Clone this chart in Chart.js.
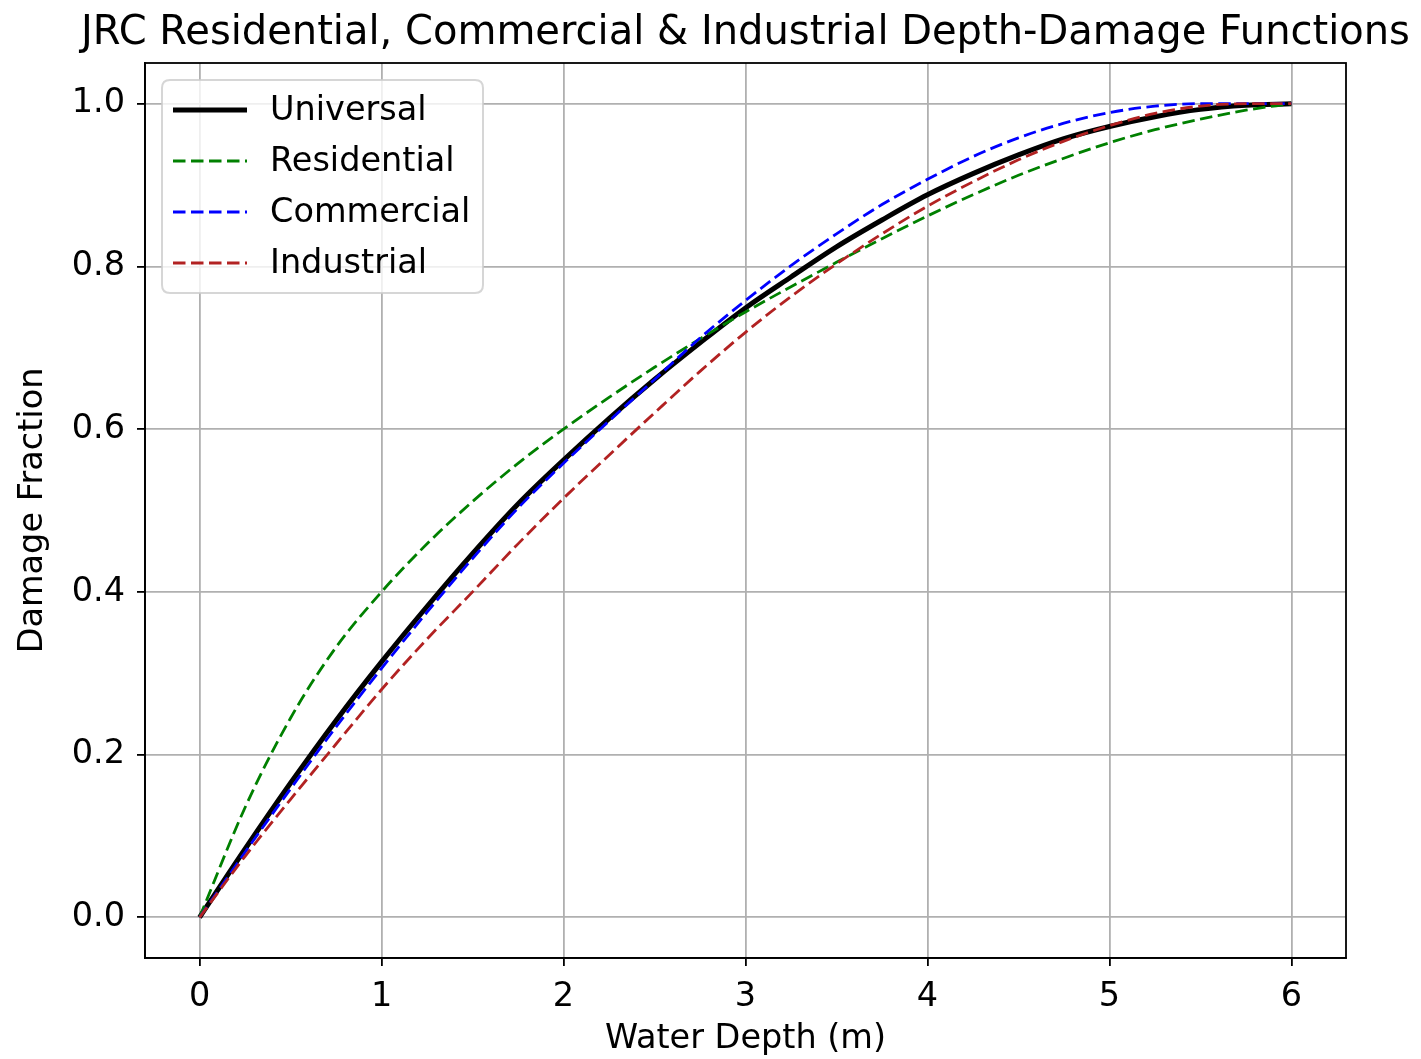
<!DOCTYPE html>
<html>
<head>
<meta charset="utf-8">
<script src="https://cdn.jsdelivr.net/npm/chart.js@4.4.1/dist/chart.umd.min.js"></script>
<style>
  html, body { margin: 0; padding: 0; background: #ffffff; }
  #wrap { width: 1421px; height: 1059px; position: relative; }
</style>
</head>
<body>
<div id="wrap"><canvas id="c" width="1421" height="1059"></canvas></div>
<script>
// ---- data ----
const chartTitle = 'JRC Residential, Commercial & Industrial Depth-Damage Functions';
const xTitle = 'Water Depth (m)';
const yTitle = 'Damage Fraction';
const depths = [0, 0.25, 0.5, 0.75, 1, 1.25, 1.5, 1.75, 2, 2.25, 2.5, 2.75, 3, 3.25, 3.5, 3.75, 4, 4.25, 4.5, 4.75, 5, 5.25, 5.5, 5.75, 6];
const universal   = [0, 0.084, 0.165, 0.242, 0.314, 0.382, 0.447, 0.508, 0.562, 0.613, 0.661, 0.706, 0.749, 0.787, 0.824, 0.857, 0.888, 0.914, 0.937, 0.957, 0.972, 0.984, 0.993, 0.998, 1.0];
const residential = [0, 0.135, 0.245, 0.332, 0.400, 0.459, 0.511, 0.558, 0.600, 0.639, 0.676, 0.711, 0.744, 0.775, 0.805, 0.834, 0.862, 0.888, 0.912, 0.933, 0.952, 0.968, 0.981, 0.992, 1.0];
const commercial  = [0, 0.080, 0.158, 0.234, 0.306, 0.375, 0.441, 0.503, 0.558, 0.610, 0.661, 0.712, 0.758, 0.801, 0.840, 0.876, 0.907, 0.935, 0.958, 0.976, 0.989, 0.997, 1.0, 1.0, 1.0];
const industrial  = [0, 0.075, 0.145, 0.213, 0.280, 0.342, 0.400, 0.459, 0.515, 0.568, 0.620, 0.671, 0.719, 0.763, 0.803, 0.840, 0.874, 0.904, 0.931, 0.954, 0.973, 0.988, 0.997, 1.0, 1.0];
const seriesNames = ['Universal', 'Residential', 'Commercial', 'Industrial'];
const xTicks = [0, 1, 2, 3, 4, 5, 6];
const yTicks = [0, 0.2, 0.4, 0.6, 0.8, 1.0];

const FONT = 'DejaVu Sans';
const FS = 33.5;
const pts = arr => depths.map((d, i) => ({ x: d, y: arr[i] }));

const legendPlugin = {
  id: 'mplLegend',
  afterDraw(chart) {
    const ctx = chart.ctx;
    const a = chart.chartArea;
    const x0 = a.left + 17, y0 = a.top + 17, w = 321, h = 213;
    ctx.save();
    const r = 8;
    ctx.beginPath();
    ctx.moveTo(x0 + r, y0);
    ctx.lineTo(x0 + w - r, y0);
    ctx.quadraticCurveTo(x0 + w, y0, x0 + w, y0 + r);
    ctx.lineTo(x0 + w, y0 + h - r);
    ctx.quadraticCurveTo(x0 + w, y0 + h, x0 + w - r, y0 + h);
    ctx.lineTo(x0 + r, y0 + h);
    ctx.quadraticCurveTo(x0, y0 + h, x0, y0 + h - r);
    ctx.lineTo(x0, y0 + r);
    ctx.quadraticCurveTo(x0, y0, x0 + r, y0);
    ctx.closePath();
    ctx.fillStyle = 'rgba(255,255,255,0.8)';
    ctx.fill();
    ctx.strokeStyle = 'rgba(204,204,204,0.8)';
    ctx.lineWidth = 2;
    ctx.stroke();
    ctx.font = FS + 'px "' + FONT + '"';
    ctx.textBaseline = 'middle';
    ctx.textAlign = 'left';
    chart.data.datasets.forEach((ds, i) => {
      const yy = y0 + 30 + i * 51;
      ctx.beginPath();
      ctx.setLineDash(ds.borderDash || []);
      ctx.lineDashOffset = 0;
      ctx.strokeStyle = ds.borderColor;
      ctx.lineWidth = ds.borderWidth;
      ctx.lineCap = 'butt';
      ctx.moveTo(x0 + 11, yy);
      ctx.lineTo(x0 + 85, yy);
      ctx.stroke();
      ctx.setLineDash([]);
      ctx.fillStyle = '#000';
      ctx.fillText(ds.label, x0 + 108, yy + 1);
    });
    ctx.restore();
  }
};

const framePlugin = {
  id: 'frame',
  afterDatasetsDraw(chart) {
    const ctx = chart.ctx, a = chart.chartArea;
    ctx.save();
    ctx.strokeStyle = '#000';
    ctx.lineWidth = 1.8;
    ctx.strokeRect(a.left, a.top, a.right - a.left, a.bottom - a.top);
    ctx.restore();
  },
  afterDraw(chart) {
    const ctx = chart.ctx, a = chart.chartArea;
    ctx.save();
    ctx.font = '40px "' + FONT + '"';
    ctx.fillStyle = '#000';
    ctx.textAlign = 'center';
    ctx.textBaseline = 'alphabetic';
    ctx.fillText(chartTitle, (a.left + a.right) / 2, 44);
    ctx.restore();
  }
};

new Chart(document.getElementById('c'), {
  type: 'line',
  data: {
    datasets: [
      { label: seriesNames[0], data: pts(universal), borderColor: '#000000', borderWidth: 5, order: 3 },
      { label: seriesNames[1], data: pts(residential), borderColor: '#008000', borderWidth: 2.8, borderDash: [12.5, 5.5], order: 2 },
      { label: seriesNames[2], data: pts(commercial), borderColor: '#0000ff', borderWidth: 2.8, borderDash: [12.5, 5.5], order: 1 },
      { label: seriesNames[3], data: pts(industrial), borderColor: '#b22222', borderWidth: 2.8, borderDash: [12.5, 5.5], order: 0 }
    ]
  },
  options: {
    responsive: false,
    animation: false,
    devicePixelRatio: 1,
    layout: { padding: { top: 63, right: 75, left: 0, bottom: 0 } },
    elements: {
      point: { radius: 0, hoverRadius: 0 },
      line: { cubicInterpolationMode: 'monotone', fill: false, borderCapStyle: 'butt' }
    },
    plugins: {
      legend: { display: false },
      title: { display: false },
      tooltip: { enabled: false }
    },
    scales: {
      x: {
        type: 'linear',
        min: -0.3,
        max: 6.3,
        afterBuildTicks: s => { s.ticks = xTicks.map(v => ({ value: v })); },
        afterFit: s => { s.height = 101; },
        ticks: {
          font: { family: FONT, size: FS },
          color: '#000',
          padding: 11,
          callback: v => String(v)
        },
        grid: { color: '#b0b0b0', lineWidth: 1.8, tickColor: '#000', tickLength: 8, tickWidth: 1.8 },
        border: { display: true, color: '#000', width: 1.8 },
        title: { display: true, text: xTitle, font: { family: FONT, size: FS }, color: '#000', padding: { top: 0, bottom: 0 } }
      },
      y: {
        type: 'linear',
        min: -0.05,
        max: 1.05,
        afterBuildTicks: s => { s.ticks = yTicks.map(v => ({ value: v })); },
        afterFit: s => { s.width = 145; },
        ticks: {
          font: { family: FONT, size: FS },
          color: '#000',
          padding: 12,
          callback: v => Number(v).toFixed(1)
        },
        grid: { color: '#b0b0b0', lineWidth: 1.8, tickColor: '#000', tickLength: 8, tickWidth: 1.8 },
        border: { display: true, color: '#000', width: 1.8 },
        title: { display: true, text: yTitle, font: { family: FONT, size: FS }, color: '#000', padding: { top: 13, bottom: 0 } }
      }
    }
  },
  plugins: [framePlugin, legendPlugin]
});
</script>
</body>
</html>
